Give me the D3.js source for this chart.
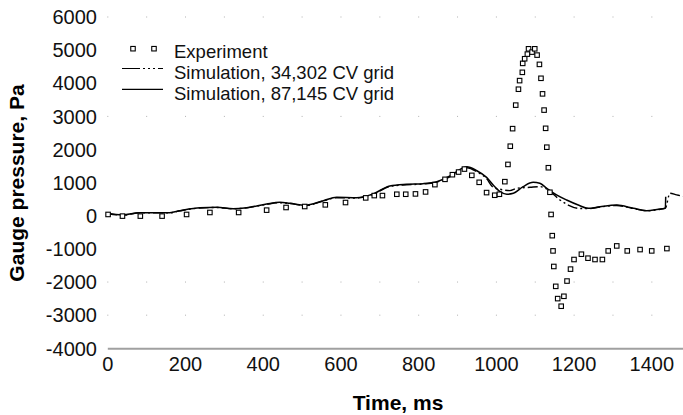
<!DOCTYPE html>
<html>
<head>
<meta charset="utf-8">
<script src="https://cdn.jsdelivr.net/npm/d3@7"></script>
<style>
  body { margin: 0; background: #fff; }
  svg { display: block; font-family: "Liberation Sans", Arial, sans-serif; }
</style>
</head>
<body>
<div id="chart"></div>
<script>
// experiment (open squares)
const expTime = [2, 39, 85, 141, 204, 264, 338, 410, 460, 508, 561, 613, 665, 687, 708, 745, 768, 793, 819,
  843, 869, 888, 904, 919, 938, 957, 976, 997, 1009, 1023, 1031, 1037, 1043, 1051, 1058, 1061, 1068, 1069,
  1074, 1081, 1084, 1093, 1100, 1106, 1112, 1116, 1120, 1124, 1128, 1131, 1135, 1139, 1142, 1145, 1147,
  1149, 1154, 1159, 1168, 1175, 1183, 1192, 1201, 1220, 1237, 1255, 1274, 1289, 1311, 1338, 1371, 1401, 1440];
const expPressure = [40, -10, -10, -10, 40, 100, 100, 170, 250, 280, 330, 400, 540, 610, 610, 650, 650, 660, 720,
  940, 1100, 1240, 1320, 1410, 1220, 1010, 700, 620, 650, 1030, 1550, 2100, 2630, 3340, 3820, 4080, 4330, 4600,
  4740, 4880, 5040, 4940, 5040, 4850, 4570, 4150, 3680, 3190, 2640, 2070, 1450, 710, 40, -600, -1060,
  -1530, -2130, -2500, -2730, -2430, -1970, -1610, -1320, -1160, -1280, -1320, -1320, -1060, -910, -1060, -1020, -1060, -990];

// simulation, 87,145 CV grid (solid)
const fineTime = [0, 39, 84, 161, 187, 239, 282, 324, 359, 410, 444, 470, 509, 556, 590, 642, 684, 727, 770, 813,
  848, 882, 916, 925, 951, 976, 993, 1011, 1028, 1045, 1070, 1096, 1113, 1131, 1156, 1182, 1212, 1238, 1268,
  1311, 1354, 1388, 1418, 1436, 1437];
const finePressure = [75, 25, 95, 95, 155, 245, 255, 215, 245, 355, 405, 375, 315, 455, 560, 545, 660, 900, 950, 970,
  1030, 1200, 1450, 1480, 1360, 1160, 930, 730, 650, 680, 880, 1010, 980, 830, 630, 475, 325, 225, 275,
  325, 225, 155, 195, 225, 575];

// simulation, 34,302 CV grid (dash-dot-dot)
const coarseTime = [0, 39, 84, 161, 187, 239, 282, 324, 359, 410, 444, 470, 509, 556, 590, 642, 684, 727, 770, 813,
  848, 882, 916, 925, 951, 976, 993, 1011, 1036, 1054, 1088, 1113, 1131, 1165, 1186, 1212, 1238, 1268, 1311,
  1354, 1388, 1418, 1436, 1448, 1465, 1478, 1500];
const coarsePressure = [70, 20, 90, 90, 150, 235, 250, 210, 240, 345, 395, 370, 310, 445, 545, 535, 645, 885, 935, 960,
  1015, 1180, 1420, 1450, 1330, 1120, 860, 800, 760, 830, 860, 880, 810, 475, 325, 225, 215, 265, 310,
  220, 150, 190, 230, 680, 630, 600, 570];

const yTicks = [6000, 5000, 4000, 3000, 2000, 1000, 0, -1000, -2000, -3000, -4000];
const xTicks = [0, 200, 400, 600, 800, 1000, 1200, 1400];
const gridLevels = [6000, 3000, -2000, -3000];
const legendLabels = ["Experiment", "Simulation, 34,302 CV grid", "Simulation, 87,145 CV grid"];

const width = 683, height = 415;
const dashPattern = "10,3,2,3,2,3";

const svg = d3.select("#chart").append("svg")
    .attr("width", width)
    .attr("height", height);

const x = d3.scaleLinear().domain([0, 1500]).range([107.3, 690.2]);
const y = d3.scaleLinear().domain([-4000, 6000]).range([348.3, 17]);

// sparse dotted gridlines
const gridDots = [];
gridLevels.forEach(v => {
    for (let t = 0; t <= 1500; t += 100) gridDots.push({ t, v });
});
svg.append("g").selectAll("rect")
    .data(gridDots)
    .enter().append("rect")
    .attr("x", d => x(d.t))
    .attr("y", d => y(d.v) - 0.5)
    .attr("width", 1)
    .attr("height", 1)
    .attr("fill", "#b0b0b0");

// y tick labels (no axis line)
svg.append("g").selectAll("text")
    .data(yTicks)
    .enter().append("text")
    .attr("x", 97)
    .attr("y", d => y(d))
    .attr("dy", "0.36em")
    .attr("text-anchor", "end")
    .attr("font-size", 20)
    .attr("fill", "#111")
    .text(d => d);

// x axis
const xAxis = svg.append("g")
    .attr("transform", `translate(0,${y(-4000)})`)
    .call(d3.axisBottom(x).tickValues(xTicks).tickSize(0).tickPadding(9).tickFormat(d3.format("d")));
xAxis.select(".domain").attr("stroke", "#a0a0a0").attr("stroke-width", 2);
xAxis.selectAll("text")
    .attr("font-size", 20)
    .attr("font-family", "'Liberation Sans', Arial, sans-serif")
    .attr("fill", "#111");

// axis titles
svg.append("text")
    .attr("x", 398)
    .attr("y", 410)
    .attr("text-anchor", "middle")
    .attr("font-size", 21)
    .attr("font-weight", "bold")
    .text("Time, ms");

svg.append("text")
    .attr("transform", "translate(24,183) rotate(-90)")
    .attr("text-anchor", "middle")
    .attr("font-size", 21)
    .attr("font-weight", "bold")
    .text("Gauge pressure, Pa");

const plot = svg.append("g");

const line = d3.line()
    .x(d => x(d[0]))
    .y(d => y(d[1]))
    .curve(d3.curveMonotoneX);

plot.append("path")
    .datum(coarseTime.map((t, i) => [t, coarsePressure[i]]))
    .attr("d", line)
    .attr("fill", "none")
    .attr("stroke", "#000")
    .attr("stroke-width", 1.4)
    .attr("stroke-dasharray", dashPattern);

plot.append("path")
    .datum(fineTime.map((t, i) => [t, finePressure[i]]))
    .attr("d", line)
    .attr("fill", "none")
    .attr("stroke", "#000")
    .attr("stroke-width", 1.5);

const sq = 4.5;
plot.append("g").selectAll("rect")
    .data(expTime.map((t, i) => [t, expPressure[i]]))
    .enter().append("rect")
    .attr("x", d => x(d[0]) - sq / 2)
    .attr("y", d => y(d[1]) - sq / 2)
    .attr("width", sq)
    .attr("height", sq)
    .attr("fill", "#fff")
    .attr("stroke", "#000")
    .attr("stroke-width", 1.1);

// legend
const legend = svg.append("g");
const rowY = [51.7, 72.5, 93.3];

[133, 154].forEach(lx => {
    legend.append("rect")
        .attr("x", lx - sq / 2)
        .attr("y", rowY[0] - 3 - sq / 2)
        .attr("width", sq)
        .attr("height", sq)
        .attr("fill", "#fff")
        .attr("stroke", "#000")
        .attr("stroke-width", 1.1);
});

legend.append("line")
    .attr("x1", 122).attr("x2", 163)
    .attr("y1", rowY[1] - 4).attr("y2", rowY[1] - 4)
    .attr("stroke", "#000")
    .attr("stroke-width", 1.2)
    .attr("stroke-dasharray", "18,3,2,3,2,3,2,3");

legend.append("line")
    .attr("x1", 122).attr("x2", 163)
    .attr("y1", rowY[2] - 4).attr("y2", rowY[2] - 4)
    .attr("stroke", "#000")
    .attr("stroke-width", 1.2);

legend.selectAll("text")
    .data(legendLabels)
    .enter().append("text")
    .attr("x", 174)
    .attr("y", (d, i) => rowY[i])
    .attr("dy", "0.36em")
    .attr("font-size", 18.5)
    .attr("fill", "#111")
    .text(d => d);
</script>
</body>
</html>
